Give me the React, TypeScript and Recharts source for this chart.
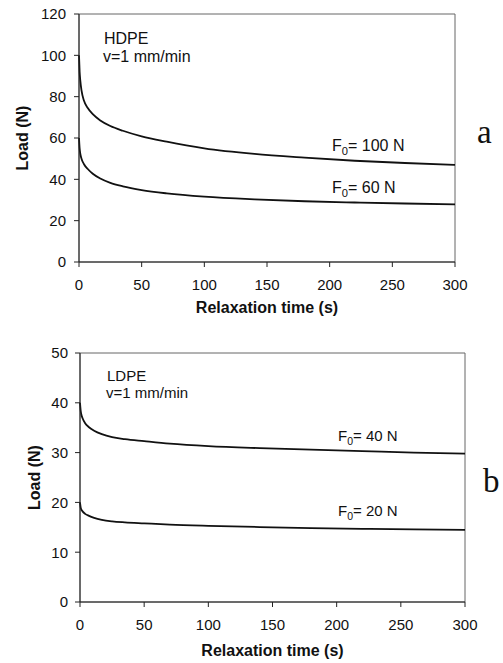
import { LineChart, Line, XAxis, YAxis, ReferenceArea } from "recharts"

// relaxation time (s)
const times = [0, 0.5, 1, 2, 4, 7, 11, 17, 25, 35, 50, 70, 100, 140, 180, 220, 260, 300]

// HDPE, load (N)
const hdpe100 = [100, 92, 88, 83, 78, 74.5, 71.5, 68.5, 65.8, 63.5, 60.8, 58.2, 55, 52.3, 50.5, 49, 47.9, 47]
const hdpe60 = [60, 55, 52.5, 50, 47.3, 45, 42.7, 40.4, 38.3, 36.6, 34.8, 33.2, 31.6, 30.3, 29.4, 28.8, 28.3, 27.9]

// LDPE, load (N)
const ldpe40 = [40, 38.5, 37.7, 36.9, 35.9, 35.1, 34.4, 33.7, 33.1, 32.7, 32.3, 31.8, 31.3, 30.9, 30.6, 30.3, 30, 29.8]
const ldpe20 = [20, 19, 18.6, 18.2, 17.7, 17.3, 16.9, 16.5, 16.2, 16, 15.8, 15.55, 15.3, 15.05, 14.85, 14.7, 14.6, 14.5]

const xTicks = [0, 50, 100, 150, 200, 250, 300]
const yTicksA = [0, 20, 40, 60, 80, 100, 120]
const yTicksB = [0, 10, 20, 30, 40, 50]

const dataA = times.map((t, i) => ({ t, f100: hdpe100[i], f60: hdpe60[i] }))
const dataB = times.map((t, i) => ({ t, f40: ldpe40[i], f20: ldpe20[i] }))

const SANS = "'Liberation Sans', Arial, sans-serif"
const SERIF = "'Liberation Serif', 'Times New Roman', serif"
const tickStyle = { fontSize: 15, fill: "#111", fontFamily: SANS }

function XTitle({ viewBox, bottom }: any) {
  return (
    <text
      x={viewBox.x + viewBox.width / 2}
      y={viewBox.y + viewBox.height - bottom}
      textAnchor="middle"
      fontFamily={SANS}
      fontWeight="bold"
      fontSize={16}
      fill="#111"
    >
      Relaxation time (s)
    </text>
  )
}

function YTitle({ viewBox, baseX }: any) {
  const cy = viewBox.y + viewBox.height / 2
  return (
    <text
      x={baseX}
      y={cy}
      transform={`rotate(-90 ${baseX} ${cy})`}
      textAnchor="middle"
      fontFamily={SANS}
      fontWeight="bold"
      fontSize={16}
      fill="#111"
    >
      Load (N)
    </text>
  )
}

function F0({ x, y, value, size }: { x: number; y: number; value: string; size: number }) {
  return (
    <text x={x} y={y} fontFamily={SANS} fontSize={size} fill="#111">
      F
      <tspan fontSize={size * 0.7} dy={4}>0</tspan>
      <tspan dy={-4}>= {value}</tspan>
    </text>
  )
}

export default function App() {
  return (
    <div style={{ position: "absolute", left: 0, top: 0, width: 503, height: 663, background: "#fff" }}>
      <LineChart width={503} height={316} data={dataA} margin={{ top: 14, right: 48, bottom: 0, left: 0 }}>
        <XAxis
          dataKey="t"
          type="number"
          domain={[0, 300]}
          ticks={xTicks}
          tickSize={5}
          tickMargin={12}
          height={54}
          tick={tickStyle}
          stroke="#222"
          label={{ content: (p: any) => <XTitle {...p} bottom={3} /> }}
        />
        <YAxis
          type="number"
          domain={[0, 120]}
          ticks={yTicksA}
          tickSize={5}
          tickMargin={8}
          width={79}
          tick={tickStyle}
          stroke="#222"
          label={{ content: (p: any) => <YTitle {...p} baseX={28} /> }}
        />
        <ReferenceArea x1={0} x2={300} y1={0} y2={120} fill="none" stroke="#666" strokeWidth={1} />
        <Line dataKey="f100" type="monotone" stroke="#111" strokeWidth={1.8} dot={false} isAnimationActive={false} />
        <Line dataKey="f60" type="monotone" stroke="#111" strokeWidth={1.8} dot={false} isAnimationActive={false} />
        <text x={104} y={44} fontFamily={SANS} fontSize={16} fill="#111">HDPE</text>
        <text x={103} y={62} fontFamily={SANS} fontSize={16} fill="#111">v=1 mm/min</text>
        <F0 x={332} y={151} value="100 N" size={16} />
        <F0 x={332} y={193} value="60 N" size={16} />
        <text x={477} y={143} fontFamily={SERIF} fontSize={33} fill="#111">a</text>
      </LineChart>
      <LineChart width={503} height={347} data={dataB} margin={{ top: 37, right: 38, bottom: 0, left: 0 }}>
        <XAxis
          dataKey="t"
          type="number"
          domain={[0, 300]}
          ticks={xTicks}
          tickSize={5}
          tickMargin={12}
          height={61}
          tick={tickStyle}
          stroke="#222"
          label={{ content: (p: any) => <XTitle {...p} bottom={7} /> }}
        />
        <YAxis
          type="number"
          domain={[0, 50]}
          ticks={yTicksB}
          tickSize={5}
          tickMargin={7}
          width={80}
          tick={tickStyle}
          stroke="#222"
          label={{ content: (p: any) => <YTitle {...p} baseX={40} /> }}
        />
        <ReferenceArea x1={0} x2={300} y1={0} y2={50} fill="none" stroke="#666" strokeWidth={1} />
        <Line dataKey="f40" type="monotone" stroke="#111" strokeWidth={1.8} dot={false} isAnimationActive={false} />
        <Line dataKey="f20" type="monotone" stroke="#111" strokeWidth={1.8} dot={false} isAnimationActive={false} />
        <text x={107} y={65} fontFamily={SANS} fontSize={15} fill="#111">LDPE</text>
        <text x={106} y={82} fontFamily={SANS} fontSize={15} fill="#111">v=1 mm/min</text>
        <F0 x={338} y={125} value="40 N" size={15} />
        <F0 x={338} y={200} value="20 N" size={15} />
        <text x={483} y={176} fontFamily={SERIF} fontSize={33} fill="#111">b</text>
      </LineChart>
    </div>
  )
}
